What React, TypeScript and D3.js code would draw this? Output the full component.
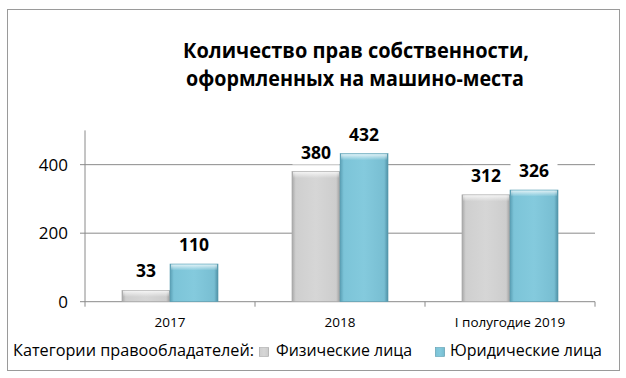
import React from "react";
import * as d3 from "d3";

const categories = ["2017", "2018", "I полугодие 2019"];
const seriesNames = ["Физические лица", "Юридические лица"];
const physical = [33, 380, 312];
const legal = [110, 432, 326];
const yTicks = [0, 200, 400];
const titleLines = ["Количество прав собственности,", "оформленных на машино-места"];
const legendTitle = "Категории правообладателей:";

const W = 626;
const H = 378;
const FONT = "'Open Sans', 'Noto Sans', sans-serif";

export default function App() {
  const plotLeft = 85;
  const plotRight = 595;
  const plotBottom = 301.7;
  const plotTop = 130.4;

  const x0 = d3
    .scaleBand<string>()
    .domain(categories)
    .range([plotLeft, plotRight])
    .paddingInner(0.435)
    .paddingOuter(0.2175);
  const x1 = d3.scaleBand<string>().domain(seriesNames).range([0, x0.bandwidth()]);
  const y = d3.scaleLinear().domain([0, 500]).range([plotBottom, plotTop]);

  const seriesData = [physical, legal];
  const fills = ["url(#gGray)", "url(#gBlue)"];
  const strokes = ["#a9a9a9", "#5c9fb3"];
  const boundaries = [plotLeft, ...categories.map((c) => (x0(c) as number) + x0.bandwidth() + (x0.step() - x0.bandwidth()) / 2)];

  const labelItems: { x: number; y: number; text: string }[] = [];
  categories.forEach((c, i) => {
    seriesNames.forEach((s, j) => {
      const v = seriesData[j][i];
      labelItems.push({
        x: (x0(c) as number) + (x1(s) as number) + x1.bandwidth() / 2,
        y: y(v) - 13,
        text: String(v),
      });
    });
  });

  return (
    <svg
      width={W}
      height={H}
      style={{ position: "absolute", left: 0, top: 0, background: "#fff" }}
      fontFamily={FONT}
    >
      <defs>
        <linearGradient id="gGray" x1="0" x2="1" y1="0" y2="0">
          <stop offset="0" stopColor="#a8a8a8" />
          <stop offset="0.08" stopColor="#cfcfcf" />
          <stop offset="0.5" stopColor="#d6d6d6" />
          <stop offset="0.92" stopColor="#cdcdcd" />
          <stop offset="1" stopColor="#9c9c9c" />
        </linearGradient>
        <linearGradient id="gBlue" x1="0" x2="1" y1="0" y2="0">
          <stop offset="0" stopColor="#5a9fb4" />
          <stop offset="0.08" stopColor="#7cc4d8" />
          <stop offset="0.5" stopColor="#84cadd" />
          <stop offset="0.92" stopColor="#78bed2" />
          <stop offset="1" stopColor="#4f90a5" />
        </linearGradient>
        <linearGradient id="gTop" x1="0" x2="0" y1="0" y2="1">
          <stop offset="0" stopColor="#ffffff" stopOpacity="0.75" />
          <stop offset="1" stopColor="#ffffff" stopOpacity="0" />
        </linearGradient>
      </defs>

      <rect x={7.5} y={9.5} width={612} height={361} fill="#fff" stroke="#9a9a9a" strokeWidth={1} />

      {/* title */}
      <text x={356} y={57.5} textAnchor="middle" fontSize={20.5} fontWeight={700} fill="#000" textLength={346} lengthAdjust="spacingAndGlyphs">
        {titleLines[0]}
      </text>
      <text x={355} y={86} textAnchor="middle" fontSize={20.5} fontWeight={700} fill="#000" textLength={338} lengthAdjust="spacingAndGlyphs">
        {titleLines[1]}
      </text>

      {/* gridlines */}
      {yTicks.map((t) => (
        <line key={t} x1={plotLeft - 5} x2={plotRight} y1={y(t)} y2={y(t)} stroke="#8a8a8a" strokeWidth={1} />
      ))}
      {/* y axis */}
      <line x1={plotLeft} x2={plotLeft} y1={plotTop} y2={plotBottom} stroke="#8a8a8a" />
      {yTicks.map((t) => (
        <text key={"yl" + t} x={68} y={y(t) + 6} textAnchor="end" fontSize={17} fill="#000">
          {t}
        </text>
      ))}
      {/* x ticks */}
      {boundaries.map((b, i) => (
        <line key={"xt" + i} x1={b} x2={b} y1={plotBottom} y2={plotBottom + 5} stroke="#8a8a8a" />
      ))}

      {/* bars */}
      {categories.map((c, i) =>
        seriesNames.map((s, j) => {
          const v = seriesData[j][i];
          const bx = (x0(c) as number) + (x1(s) as number);
          const by = y(v);
          const bh = plotBottom - by;
          const bw = x1.bandwidth();
          return (
            <g key={c + s}>
              <rect x={bx} y={by} width={bw} height={bh} fill={fills[j]} stroke={strokes[j]} strokeWidth={0.6} />
              <rect x={bx + 1} y={by + 0.5} width={bw - 2} height={Math.min(6, bh)} fill="url(#gTop)" />
            </g>
          );
        })
      )}

      {/* value labels */}
      {labelItems.map((l, i) => (
        <g key={"vl" + i}>
          <rect x={l.x - l.text.length * 6.5 - 4} y={l.y - 16} width={l.text.length * 13 + 8} height={22} fill="#fff" />
          <text x={l.x} y={l.y} textAnchor="middle" fontSize={17.5} fontWeight={700} fill="#000">
            {l.text}
          </text>
        </g>
      ))}

      {/* x labels */}
      {categories.map((c) => (
        <text key={"xl" + c} x={(x0(c) as number) + x0.bandwidth() / 2} y={327} textAnchor="middle" fontSize={13.5} fill="#000">
          {c}
        </text>
      ))}

      {/* legend */}
      <text x={13} y={356} fontSize={16} fill="#000" textLength={241} lengthAdjust="spacingAndGlyphs">
        {legendTitle}
      </text>
      <rect x={259.5} y={347.5} width={9} height={9} fill="url(#gGray)" stroke="#a9a9a9" strokeWidth={0.6} />
      <text x={276} y={356} fontSize={16} fill="#000" textLength={136} lengthAdjust="spacingAndGlyphs">
        {seriesNames[0]}
      </text>
      <rect x={435.5} y={347.5} width={9} height={9} fill="url(#gBlue)" stroke="#5c9fb3" strokeWidth={0.6} />
      <text x={450} y={356} fontSize={16} fill="#000" textLength={152} lengthAdjust="spacingAndGlyphs">
        {seriesNames[1]}
      </text>
    </svg>
  );
}
